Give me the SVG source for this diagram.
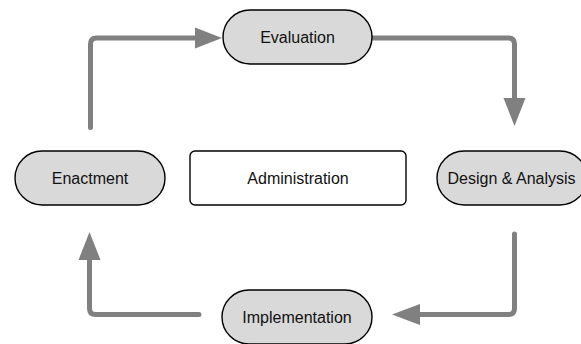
<svg xmlns="http://www.w3.org/2000/svg" width="581" height="344" viewBox="0 0 581 344">
<style>
.n{fill:#d9d9d9;stroke:#000;stroke-width:1.4}
.b{fill:#fff;stroke:#000;stroke-width:1.4}
.t{font-family:"Liberation Sans",Arial,sans-serif;font-size:16px;fill:#111;text-anchor:middle}
.c{fill:none;stroke:#808080;stroke-width:5;stroke-linecap:round;stroke-linejoin:round}
.h{fill:#808080}
</style>
<rect width="581" height="344" fill="#fff"/>
<g id="connectors">
<path class="c" d="M90.5,127.5 V44 Q90.5,38 96.5,38 H197"/>
<polygon class="h" points="195,27.5 222,38 195,48.5"/>
<path class="c" d="M372,38 H508.5 Q514.5,38 514.5,44 V100"/>
<polygon class="h" points="503.5,98 514.5,126 525.5,98"/>
<path class="c" d="M514.5,234 V308.5 Q514.5,314.5 508.5,314.5 H418"/>
<polygon class="h" points="420,304 392,314.5 420,325"/>
<path class="c" d="M199,314.5 H95.5 Q89.5,314.5 89.5,308.5 V258"/>
<polygon class="h" points="78.5,260 89.5,232 100.5,260"/>
</g>
<g id="evaluation">
<rect class="n" x="223" y="10" width="149" height="54" rx="27"/>
<text class="t" x="297.5" y="42.5">Evaluation</text>
</g>
<g id="enactment">
<rect class="n" x="15" y="151" width="150" height="54" rx="27"/>
<text class="t" x="90" y="184">Enactment</text>
</g>
<g id="administration">
<rect class="b" x="190" y="151" width="216" height="54" rx="5"/>
<text class="t" x="298" y="184">Administration</text>
</g>
<g id="design">
<rect class="n" x="437" y="151" width="150" height="54" rx="27"/>
<text class="t" x="511.5" y="184">Design &amp; Analysis</text>
</g>
<g id="implementation">
<rect class="n" x="222" y="290" width="150" height="54" rx="27"/>
<text class="t" x="297" y="322.5">Implementation</text>
</g>
</svg>
